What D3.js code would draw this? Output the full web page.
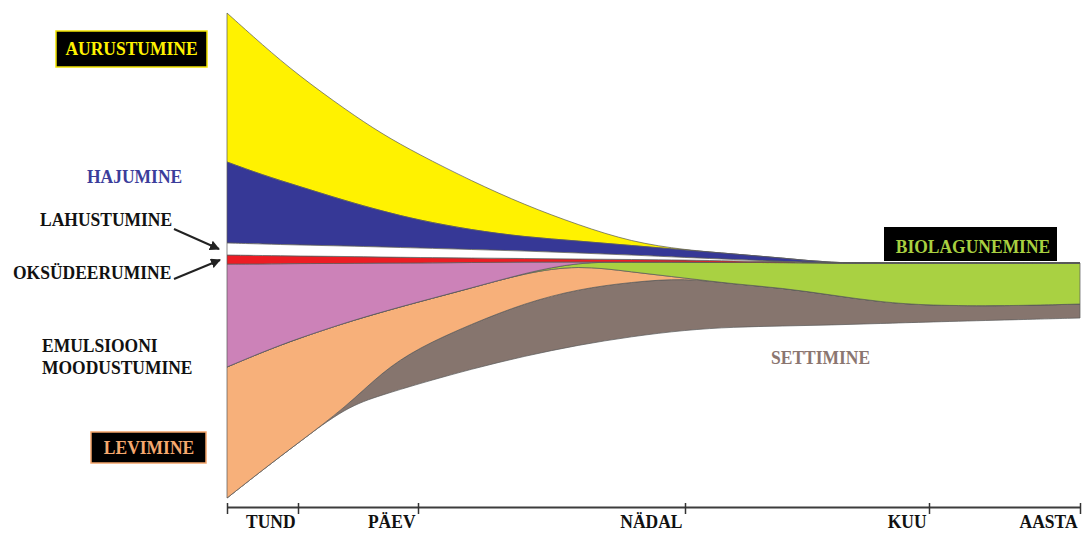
<!DOCTYPE html>
<html>
<head>
<meta charset="utf-8">
<script src="https://cdn.jsdelivr.net/npm/d3@7"></script>
<style>
  html, body { margin: 0; padding: 0; background: #ffffff; }
  svg { display: block; }
</style>
</head>
<body>
<svg id="chart" width="1087" height="533"></svg>
<script>
// ---- Data (time in axis units: 0 = start, 1 = tund, 2 = päev, 3 = nädal, 4 = kuu, 5 = aasta) ----
const times = [0, 0.5, 1, 1.4, 1.7, 2, 2.2, 2.4, 2.6, 2.8, 3, 3.2, 3.4, 3.6, 3.8, 4, 4.5, 5];
const tickValues = [0, 1, 2, 3, 4, 5];
const tickLabels = ['', 'TUND', 'PÄEV', 'NÄDAL', 'KUU', 'AASTA'];

// level of the water surface (boundary between processes above and below)
const surface      = [3, 2.5, 2, 1.5, 1, 0.5, 0, -0.5, -1, -1.5, -2, -3, -3.5, -5, -5, -5, -5, -5];

// processes above the surface (stacked upward from surface)
const lahustumine  = [12, 11.5, 11, 10.5, 10, 9.5, 8.5, 7.5, 6, 4.5, 2.5, 1.5, 0, 0, 0, 0, 0, 0];
const hajumine     = [81, 69, 59, 45, 36, 28, 19.5, 14, 12, 9.5, 7.5, 5.5, 3.5, 0, 0, 0, 0, 0];
const aurustumine  = [149, 130, 111, 91, 77, 66, 49, 32, 16, 3.5, 0, 0, 0, 0, 0, 0, 0, 0];

// processes below the surface (stacked downward from surface)
const oksudeerumine = [9, 8.5, 7.5, 7, 6, 5.5, 4.5, 3.5, 3, 2.5, 2, 1.5, 1, 0, 0, 0, 0, 0];
const emulsioon     = [103, 88, 75, 59, 49, 39, 25.5, 11, 0, 0, 0, 0, 0, 0, 0, 0, 0, 0];
const biolagunemine = [0, 0, 0, 0, 0, 0, 0, 0, 3, 10, 16, 21.5, 25.5, 32, 39, 42.5, 43, 41];
const levimine      = [131, 118, 104.5, 84.5, 60, 46, 36, 30, 24, 10, 0, 0, 0, 0, 0, 0, 0, 0];
const settimine     = [0, 0, 0, 0, 23, 36, 45, 53, 56, 54.5, 52, 43, 38, 30, 21.5, 16.5, 14, 14];

const upperKeys = ['Lahustumine', 'Hajumine', 'Aurustumine'];
const lowerKeys = ['Oksüdeerumine', 'Emulsioon', 'Biolagunemine', 'Levimine', 'Settimine'];

const colors = {
  'Aurustumine':   '#fff200',
  'Hajumine':      '#363896',
  'Lahustumine':   '#ffffff',
  'Oksüdeerumine': '#ed1c24',
  'Emulsioon':     '#cc82b8',
  'Biolagunemine': '#a9d142',
  'Levimine':      '#f7b07a',
  'Settimine':     '#86756e'
};

// ---- Table ----
const table = times.map((t, i) => ({
  t: t,
  surface: surface[i],
  'Lahustumine': lahustumine[i],
  'Hajumine': hajumine[i],
  'Aurustumine': aurustumine[i],
  'Oksüdeerumine': oksudeerumine[i],
  'Emulsioon': emulsioon[i],
  'Biolagunemine': biolagunemine[i],
  'Levimine': levimine[i],
  'Settimine': settimine[i]
}));

// ---- Scales ----
const svg = d3.select('#chart');
const x = d3.scaleLinear().domain(tickValues).range([227, 298, 418, 685, 929, 1080]);
const y = d3.scaleLinear().domain([-250, 250]).range([508, 8]);

// offset: stack from the surface line, upward (dir=+1) or downward (dir=-1)
function offsetFromSurface(dir) {
  return function (series, order) {
    if (!series.length) return;
    const n = series[order[0]].length;
    for (let j = 0; j < n; j++) {
      let level = table[j].surface;
      for (const i of order) {
        const s = series[i][j];
        const v = s[1] - s[0];
        s[0] = level;
        level += dir * v;
        s[1] = level;
      }
    }
  };
}

const upper = d3.stack().keys(upperKeys).order(d3.stackOrderNone).offset(offsetFromSurface(1))(table);
const lower = d3.stack().keys(lowerKeys).order(d3.stackOrderNone).offset(offsetFromSurface(-1))(table);

const area = d3.area()
  .x(d => x(d.data.t))
  .y0(d => y(d[0]))
  .y1(d => y(d[1]))
  .curve(d3.curveBasis);

const gAreas = svg.append('g');
const drawOrder = [...lower.slice().reverse(), ...upper.slice().reverse()];
gAreas.selectAll('path')
  .data(drawOrder)
  .join('path')
  .attr('d', area)
  .attr('fill', d => colors[d.key])
  .attr('stroke', '#5a5a5a')
  .attr('stroke-width', 0.9)
  .attr('stroke-opacity', 0.8)
  .attr('stroke-linejoin', 'round');

// ---- Axis ----
const axis = d3.axisBottom(x)
  .tickValues(tickValues)
  .tickFormat((d, i) => tickLabels[i])
  .tickSizeOuter(0);

const gAxis = svg.append('g')
  .attr('transform', 'translate(0,507)')
  .call(axis);

gAxis.select('.domain').attr('stroke', '#3c3c3c').attr('stroke-width', 2);
gAxis.selectAll('.tick line')
  .attr('y1', -4).attr('y2', 7)
  .attr('stroke', '#333').attr('stroke-width', 1.5);
gAxis.selectAll('.tick text')
  .attr('font-family', '"Liberation Serif", "Times New Roman", serif')
  .attr('font-weight', 'bold')
  .attr('font-size', 17.5)
  .attr('fill', '#111')
  .attr('text-anchor', 'end')
  .attr('x', -3)
  .attr('dy', null)
  .attr('y', 19.1)
  .attr('transform', 'scale(1,1.1)');

// ---- Labels ----
const fontFam = '"Liberation Serif", "Times New Roman", serif';
function label(txt, px, baseline, color, anchor) {
  svg.append('text')
    .attr('transform', `translate(${px},${baseline}) scale(1,1.1)`)
    .attr('text-anchor', anchor || 'start')
    .attr('font-family', fontFam)
    .attr('font-weight', 'bold')
    .attr('font-size', 17.5)
    .attr('fill', color)
    .text(txt);
}
function box(bx, by, bw, bh, stroke) {
  svg.append('rect')
    .attr('x', bx).attr('y', by).attr('width', bw).attr('height', bh)
    .attr('fill', '#000')
    .attr('stroke', stroke || 'none')
    .attr('stroke-width', 1.5);
}

box(56, 31, 151, 36, '#f2e400');
label('AURUSTUMINE', 131.5, 55, '#fff200', 'middle');

label('HAJUMINE', 87, 183, '#3b3d9b');
label('LAHUSTUMINE', 40, 226, '#111');
label('OKSÜDEERUMINE', 13, 279, '#111');
label('EMULSIOONI', 42, 352, '#111');
label('MOODUSTUMINE', 42, 374, '#111');

box(91, 432, 115, 31, '#f4a46a');
label('LEVIMINE', 149, 454, '#f5a86e', 'middle');

box(884, 227, 173, 34, null);
label('BIOLAGUNEMINE', 973, 253, '#a8d040', 'middle');

label('SETTIMINE', 771, 364, '#8b7670');

// ---- Arrows ----
const defs = svg.append('defs');
defs.append('marker')
  .attr('id', 'arrow')
  .attr('viewBox', '0 0 10 10')
  .attr('refX', 9).attr('refY', 5)
  .attr('markerWidth', 5).attr('markerHeight', 5)
  .attr('orient', 'auto')
  .attr('markerUnits', 'strokeWidth')
  .append('path')
  .attr('d', 'M0,0 L10,5 L0,10 Z')
  .attr('fill', '#222');

svg.append('line')
  .attr('x1', 174).attr('y1', 229).attr('x2', 219).attr('y2', 249)
  .attr('stroke', '#222').attr('stroke-width', 2)
  .attr('marker-end', 'url(#arrow)');
svg.append('line')
  .attr('x1', 174).attr('y1', 279).attr('x2', 220).attr('y2', 260)
  .attr('stroke', '#222').attr('stroke-width', 2)
  .attr('marker-end', 'url(#arrow)');
</script>
</body>
</html>
